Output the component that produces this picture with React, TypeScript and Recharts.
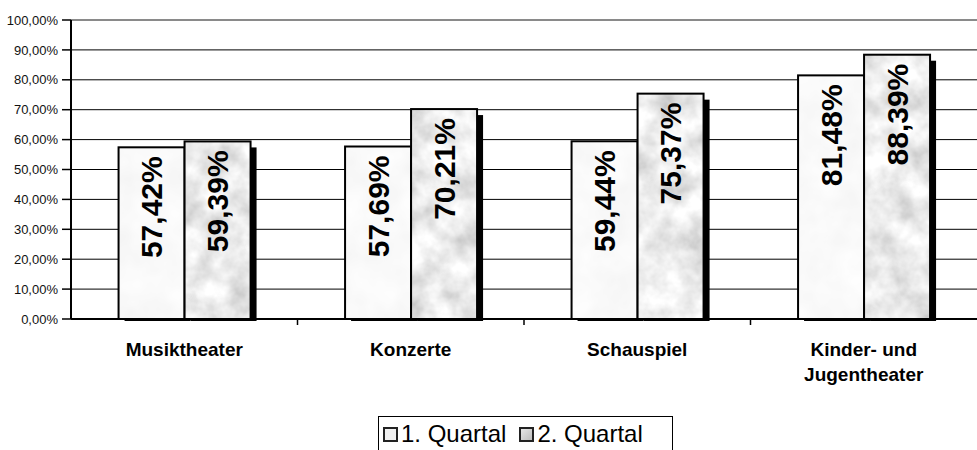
import { Bar, BarChart, CartesianGrid, LabelList, ReferenceLine, XAxis, YAxis } from "recharts";

const categories = ["Musiktheater", "Konzerte", "Schauspiel", "Kinder- und\nJugentheater"];
const seriesNames = ["1. Quartal", "2. Quartal"];
const quarter1 = [57.42, 57.69, 59.44, 81.48];
const quarter2 = [59.39, 70.21, 75.37, 88.39];
const yTicks = [0, 10, 20, 30, 40, 50, 60, 70, 80, 90, 100];

const data = categories.map((name, i) => ({ name, q1: quarter1[i], q2: quarter2[i] }));

const W = 977;
const H = 450;
const Y_AXIS_W = 71;
const FONT = "Arial, 'Liberation Sans', sans-serif";
const band = (W - Y_AXIS_W) / categories.length;

const fmt = (v: number) => `${v.toFixed(2).replace(".", ",")}%`;

function ShadowBar(props: any) {
  const { x, y, width, height, fill } = props;
  if (!height) return null;
  return (
    <g>
      <rect x={x + 6} y={y + 6} width={width} height={height - 4} fill="#000" />
      <rect x={x} y={y} width={width} height={height} fill={fill} stroke="#000" strokeWidth={2} />
    </g>
  );
}

function BarValue(props: any) {
  const { x, y, width, value } = props;
  const cx = x + width / 2;
  const top = y + 9;
  return (
    <text
      x={cx}
      y={top}
      transform={`rotate(-90 ${cx} ${top})`}
      textAnchor="end"
      dominantBaseline="central"
      fontFamily={FONT}
      fontWeight="bold"
      fontSize={30}
      fill="#000"
    >
      {fmt(value)}
    </text>
  );
}

function CategoryTick(props: any) {
  const { x, y, payload } = props;
  const lines = String(payload.value).split("\n");
  const bx = x - band / 2;
  return (
    <g>
      {bx > Y_AXIS_W + 1 && <line x1={bx} y1={y} x2={bx} y2={y + 6} stroke="#000" strokeWidth={1.5} />}
      <text x={x} y={y + 37} textAnchor="middle" fontFamily={FONT} fontWeight="bold" fontSize={19} fill="#000">
        {lines.map((l, i) => (
          <tspan key={i} x={x} dy={i === 0 ? 0 : 25}>
            {l}
          </tspan>
        ))}
      </text>
    </g>
  );
}

function LegendBox() {
  return (
    <div
      style={{
        position: "absolute",
        left: 378,
        top: 416,
        width: 295,
        height: 40,
        border: "1px solid #000",
        boxSizing: "border-box",
        display: "flex",
        alignItems: "flex-start",
        paddingTop: 5,
        paddingLeft: 4,
        fontFamily: FONT,
        fontSize: 24,
        color: "#000",
        background: "#fff",
        whiteSpace: "nowrap",
      }}
    >
      {seriesNames.map((n, i) => (
        <div key={n} style={{ display: "flex", alignItems: "center", marginRight: 13, flexShrink: 0 }}>
          <div
            style={{
              width: 15,
              height: 15,
              boxSizing: "border-box",
              border: "2px solid #222",
              background: i === 0 ? "#f1f1f1" : "linear-gradient(135deg,#e6e6e6,#bdbdbd)",
              marginRight: 3,
              flexShrink: 0,
            }}
          />
          <span style={{ lineHeight: "24px" }}>{n}</span>
        </div>
      ))}
    </div>
  );
}

export default function App() {
  return (
    <div style={{ position: "absolute", left: 0, top: 0, width: W, height: H, background: "#fff", overflow: "hidden" }}>
      <BarChart
        width={W}
        height={H}
        data={data}
        margin={{ top: 20, right: 0, left: 0, bottom: 0 }}
        barCategoryGap="21%"
        barGap={0}
      >
        <defs>
          <filter id="noiseLight" x="0" y="0" width="100%" height="100%">
            <feTurbulence type="fractalNoise" baseFrequency="0.03" numOctaves="3" seed="2" />
            <feColorMatrix type="matrix" values="0.12 0 0 0 0.89  0.12 0 0 0 0.89  0.12 0 0 0 0.89  0 0 0 0 1" />
          </filter>
          <filter id="noiseDark" x="0" y="0" width="100%" height="100%">
            <feTurbulence type="fractalNoise" baseFrequency="0.035" numOctaves="4" seed="7" />
            <feColorMatrix type="matrix" values="0.75 0 0 0 0.47  0.75 0 0 0 0.47  0.75 0 0 0 0.47  0 0 0 0 1" />
          </filter>
          <pattern id="texLight" patternUnits="userSpaceOnUse" width={W} height={H}>
            <rect width={W} height={H} filter="url(#noiseLight)" />
          </pattern>
          <pattern id="texDark" patternUnits="userSpaceOnUse" width={W} height={H}>
            <rect width={W} height={H} filter="url(#noiseDark)" />
          </pattern>
        </defs>
        <CartesianGrid vertical={false} stroke="#000" strokeWidth={1} />
        <XAxis
          dataKey="name"
          height={H - 319}
          axisLine={{ stroke: "#000", strokeWidth: 2 }}
          tickLine={false}
          tickSize={0}
          tickMargin={0}
          tick={<CategoryTick />}
          interval={0}
        />
        <YAxis
          width={Y_AXIS_W}
          domain={[0, 100]}
          ticks={yTicks}
          tickFormatter={fmt}
          axisLine={{ stroke: "#000", strokeWidth: 2 }}
          tickLine={{ stroke: "#000", strokeWidth: 1.5 }}
          tickSize={9}
          tickMargin={4}
          tick={{ fill: "#111", fontSize: 13, fontFamily: FONT }}
          interval={0}
        />
        <ReferenceLine y={100} stroke="#8a8a8a" strokeWidth={2} />
        <Bar dataKey="q1" name={seriesNames[0]} fill="url(#texLight)" shape={<ShadowBar />} isAnimationActive={false}>
          <LabelList dataKey="q1" content={<BarValue />} />
        </Bar>
        <Bar dataKey="q2" name={seriesNames[1]} fill="url(#texDark)" shape={<ShadowBar />} isAnimationActive={false}>
          <LabelList dataKey="q2" content={<BarValue />} />
        </Bar>
      </BarChart>
      <LegendBox />
    </div>
  );
}
